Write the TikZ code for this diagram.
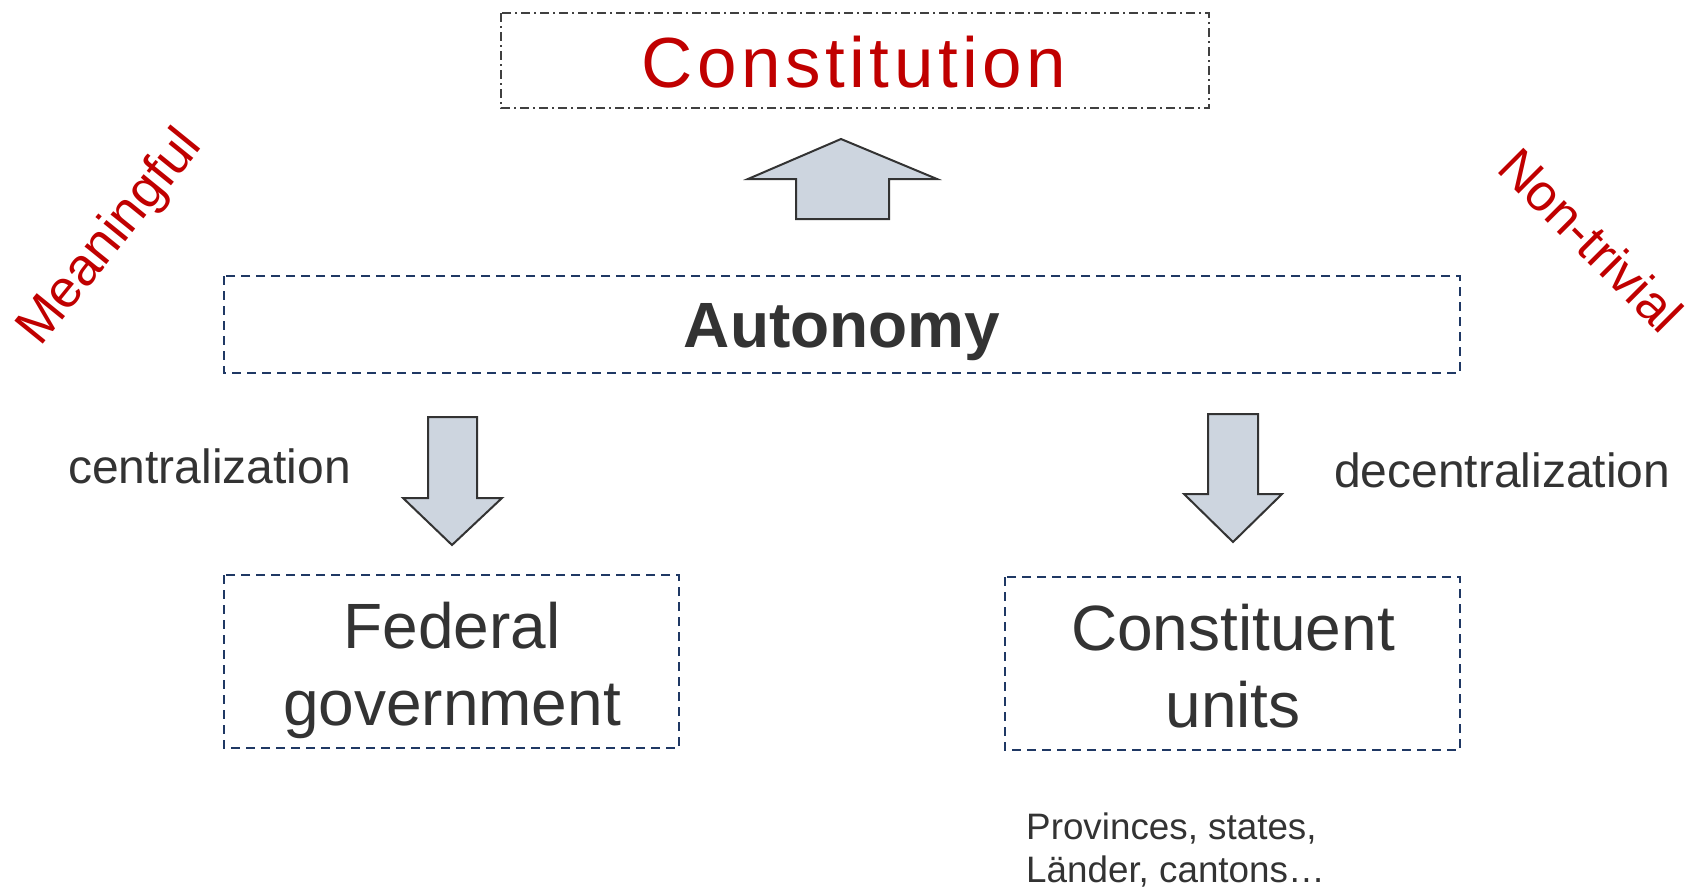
\documentclass[tikz,border=0pt]{standalone}
\usepackage{fontspec}
\setmainfont{Liberation Sans}
\definecolor{redtxt}{HTML}{C00000}
\definecolor{greytxt}{HTML}{333333}
\definecolor{navy}{HTML}{1F3864}
\definecolor{arrowfill}{HTML}{CDD5DF}
\definecolor{arrowline}{HTML}{333333}
\begin{document}
\begin{tikzpicture}[x=1pt,y=-1pt,
  dbox/.style={draw=navy,line width=2.2pt,dash pattern=on 9pt off 6pt},
  cbox/.style={draw=black!75,line width=2pt,dash pattern=on 9pt off 4pt on 2pt off 4pt},
  fatarrow/.style={fill=arrowfill,draw=arrowline,line width=2pt,line join=miter},
  txt/.style={inner sep=0pt,anchor=base,text=greytxt},
  rtxt/.style={inner sep=0pt,text=redtxt}]
\useasboundingbox (0,0) rectangle (1700,887);
% boxes
\draw[cbox] (501,13) rectangle (1209,108);
\draw[dbox] (224,276) rectangle (1460,373);
\draw[dbox] (224,575) rectangle (679,748);
\draw[dbox] (1005,577) rectangle (1460,750);
% arrows
\draw[fatarrow] (841,139) -- (937,179) -- (889,179) -- (889,219) -- (796,219) -- (796,179) -- (748,179) -- cycle;
\draw[fatarrow] (428,417) -- (477,417) -- (477,498) -- (502,498) -- (452,545) -- (403,498) -- (428,498) -- cycle;
\draw[fatarrow] (1208,414) -- (1258,414) -- (1258,494) -- (1282,494) -- (1233,542) -- (1184,494) -- (1208,494) -- cycle;
% texts
\node[rtxt,anchor=base] (const) at (854,87) {\fontsize{71}{71}\selectfont\addfontfeature{LetterSpace=6.3}Constitution};
\node[txt] (auto) at (842,347) {\fontsize{64}{64}\selectfont\bfseries Autonomy};
\node[txt,anchor=base west] (cent) at (68,483) {\fontsize{48}{48}\selectfont centralization};
\node[txt,anchor=base west] (decent) at (1334,487) {\fontsize{48}{48}\selectfont decentralization};
\node[txt] (fed1) at (452,648) {\fontsize{64}{64}\selectfont Federal};
\node[txt] (fed2) at (452,725) {\fontsize{64}{64}\selectfont government};
\node[txt] (cu1) at (1233,650) {\fontsize{64}{64}\selectfont Constituent};
\node[txt] (cu2) at (1233,727) {\fontsize{64}{64}\selectfont units};
\node[txt,anchor=base west] (prov1) at (1026,839) {\fontsize{36.8}{36.8}\selectfont Provinces, states,};
\node[txt,anchor=base west] (prov2) at (1026,882) {\fontsize{36.8}{36.8}\selectfont Länder, cantons…};
\node[rtxt,anchor=base west,rotate=51] (mean) at (40,348) {\fontsize{53}{53}\selectfont Meaningful};
\node[rtxt,anchor=base west,rotate=-45] (nontriv) at (1495,170) {\fontsize{52}{52}\selectfont Non-trivial};
\end{tikzpicture}
\end{document}
